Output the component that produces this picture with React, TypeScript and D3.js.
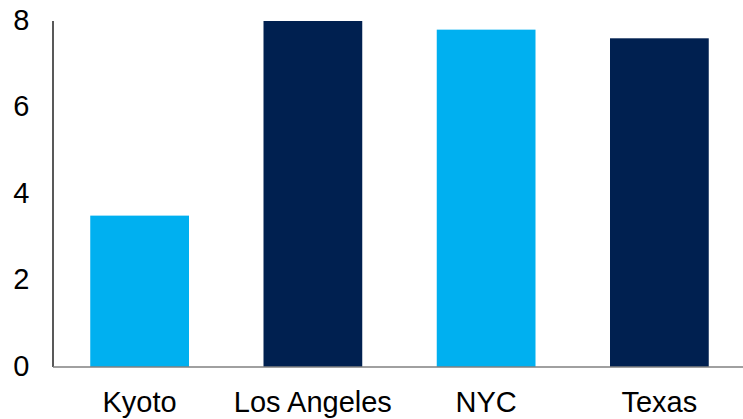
import React from "react";
import * as d3 from "d3";

const categories = ["Kyoto", "Los Angeles", "NYC", "Texas"];
const values = [3.5, 8.0, 7.8, 7.6];
const barColors = ["#00B0F0", "#002050", "#00B0F0", "#002050"];
const yTicks = [0, 2, 4, 6, 8];

const W = 743;
const H = 419;
const left = 53;
const right = 746;
const top = 21;
const bottom = 367;

export default function App() {
  const x = d3.scaleBand<string>().domain(categories).range([left, right]).paddingInner(0.43).paddingOuter(0.215);
  const y = d3.scaleLinear().domain([0, 8]).range([bottom, top]);
  const font = "'Liberation Sans', Arial, sans-serif";
  return (
    <svg width={W} height={H} style={{ position: "absolute", left: 0, top: 0, background: "#fff" }}>
      {categories.map((c, i) => (
        <rect key={c} x={x(c)} y={y(values[i])} width={x.bandwidth()} height={y(0) - y(values[i])} fill={barColors[i]} />
      ))}
      <line x1={left} x2={left} y1={top} y2={bottom} stroke="#595959" strokeWidth={2} />
      <line x1={left} x2={W} y1={bottom} y2={bottom} stroke="#808080" strokeWidth={1.5} />
      {yTicks.map((t) => (
        <text key={t} x={29.5} y={y(t)} dy="0.3em" textAnchor="end" fontFamily={font} fontSize={29} fill="#000">
          {t}
        </text>
      ))}
      {categories.map((c) => (
        <text key={c} x={(x(c) as number) + x.bandwidth() / 2} y={412} textAnchor="middle" fontFamily={font} fontSize={29} fill="#000">
          {c}
        </text>
      ))}
    </svg>
  );
}
